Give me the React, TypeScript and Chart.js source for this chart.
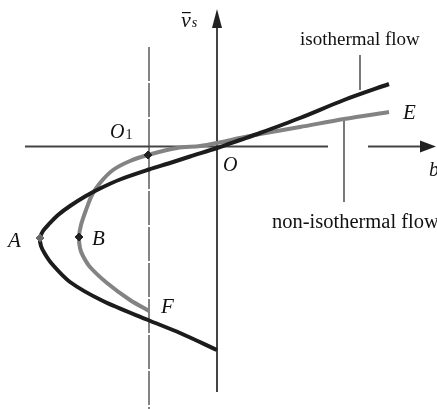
import React, { useEffect, useRef } from "react";
import { Chart, registerables } from "chart.js";

Chart.register(...registerables);

// Coordinates: b along the horizontal axis, v̄s along the vertical one, O at the origin.
const isothermalB = [17.2, 12.7, 8.3, 4.3, 2.3, 0, -2.7, -4.7, -6.8, -9.7, -11.7, -13.2, -14.7, -15.9, -16.8, -17.4, -17.7, -17.6, -17.2, -16.5, -14.7, -11.4, -6.9, -3.7, 0];
const isothermalV = [6.25, 4.65, 2.85, 1.35, 0.65, -0.15, -1.0, -1.65, -2.3, -3.3, -4.2, -5.0, -5.95, -6.85, -7.75, -8.45, -9.15, -9.95, -10.75, -11.75, -13.55, -15.45, -17.35, -18.65, -20.35];

const nonIsothermalB = [17.2, 12.7, 8.3, 4.3, 2.3, 0, -1.7, -4.0, -6.9, -8.7, -10.4, -11.7, -12.5, -13.1, -13.6, -13.8, -13.7, -13.4, -12.7, -11.0, -8.7, -6.8];
const nonIsothermalV = [3.45, 2.75, 1.95, 1.25, 0.85, 0.35, 0.05, -0.15, -0.85, -1.45, -2.35, -3.65, -4.85, -6.35, -7.85, -9.05, -10.15, -10.95, -12.05, -13.65, -15.35, -16.45];

// Marked points A (isothermal), B and O1 (non-isothermal)
const markerB = [-17.7, -13.8, -6.9];
const markerV = [-9.15, -9.05, -0.85];
const markerColors = ["#6a6a6a", "#222222", "#222222"];

// Axes and guide lines
const bAxisB = [-19.2, 11.1];
const bAxisTailB = [15.1, 20.4];
const vAxisV = [-24.55, 11.9];
const guideLineB = -6.8;
const guideLineV = [9.95, -26.3];
const isoLeaderB = 14.3;
const isoLeaderV = [9.15, 5.65];
const nonIsoLeaderB = 12.7;
const nonIsoLeaderV = [2.75, -5.55];

// Arrow heads
const bArrowTip = 21.9;
const bArrowBase = 20.3;
const vArrowTip = 13.75;
const vArrowBase = 11.85;

// Text labels: text, left b, baseline v, font
const labelTexts = ["isothermal flow", "non-isothermal flow", "E", "b", "O", "A", "B", "F"];
const labelB = [8.3, 5.5, 18.6, 21.2, 0.6, -20.9, -12.5, -5.6];
const labelV = [10.15, -8.15, 2.75, -2.95, -2.45, -10.05, -9.85, -16.65];
const labelFonts = [
  "19px 'Liberation Serif'",
  "20.5px 'Liberation Serif'",
  "italic 21px 'Liberation Serif'",
  "italic 20px 'Liberation Serif'",
  "italic 20px 'Liberation Serif'",
  "italic 21px 'Liberation Serif'",
  "italic 21px 'Liberation Serif'",
  "italic 21px 'Liberation Serif'",
];

const pts = (xs: number[], ys: number[]) => xs.map((x, i) => ({ x, y: ys[i] }));

const overlayPlugin = {
  id: "diagramOverlay",
  afterDatasetsDraw(chart: any) {
    const { ctx, scales } = chart;
    const px = (v: number) => scales.x.getPixelForValue(v);
    const py = (v: number) => scales.y.getPixelForValue(v);
    ctx.save();
    ctx.fillStyle = "#222";

    // b-axis arrow
    ctx.beginPath();
    ctx.moveTo(px(bArrowTip), py(0));
    ctx.lineTo(px(bArrowBase), py(0) - 6);
    ctx.lineTo(px(bArrowBase), py(0) + 6);
    ctx.closePath();
    ctx.fill();

    // v-axis arrow
    ctx.beginPath();
    ctx.moveTo(px(0), py(vArrowTip));
    ctx.lineTo(px(0) - 5, py(vArrowBase));
    ctx.lineTo(px(0) + 5, py(vArrowBase));
    ctx.closePath();
    ctx.fill();

    ctx.fillStyle = "#111";
    ctx.textBaseline = "alphabetic";
    ctx.textAlign = "left";
    labelTexts.forEach((t, i) => {
      ctx.font = labelFonts[i];
      ctx.fillText(t, px(labelB[i]), py(labelV[i]));
    });

    // O1
    const o1x = px(-10.7);
    const o1y = py(0.85);
    ctx.font = "italic 20px 'Liberation Serif'";
    ctx.fillText("O", o1x, o1y);
    const ow = ctx.measureText("O").width;
    ctx.font = "14px 'Liberation Serif'";
    ctx.fillText("1", o1x + ow + 1, o1y + 1);

    // v̄s
    const vx = px(-3.6);
    const vy = py(11.95);
    ctx.font = "italic 22px 'Liberation Serif'";
    ctx.fillText("v", vx, vy);
    const vw = ctx.measureText("v").width;
    ctx.fillRect(vx + 1, vy - 15, vw - 1, 1.2);
    ctx.font = "italic 14px 'Liberation Serif'";
    ctx.fillText("s", vx + vw + 1, vy);
    ctx.restore();
  },
};

export default function App() {
  const canvasRef = useRef<HTMLCanvasElement | null>(null);

  useEffect(() => {
    if (!canvasRef.current) return;
    const thin = { showLine: true, pointRadius: 0, borderColor: "#333", borderWidth: 1.3, tension: 0 };
    const chart = new Chart(canvasRef.current, {
      type: "scatter",
      data: {
        datasets: [
          {
            data: pts(markerB, markerV),
            showLine: false,
            pointStyle: "rectRot",
            pointRadius: 4,
            pointBackgroundColor: markerColors,
            pointBorderColor: markerColors,
            pointBorderWidth: 1,
          },
          {
            data: pts(isothermalB, isothermalV),
            showLine: true,
            borderColor: "#1c1c1c",
            borderWidth: 4,
            pointRadius: 0,
            tension: 0.3,
          },
          {
            data: pts(nonIsothermalB, nonIsothermalV),
            showLine: true,
            borderColor: "#838383",
            borderWidth: 4,
            pointRadius: 0,
            tension: 0.3,
          },
          { ...thin, data: pts(bAxisB, [0, 0]), borderWidth: 2, borderColor: "#444" },
          { ...thin, data: pts(bAxisTailB, [0, 0]), borderWidth: 2, borderColor: "#444" },
          { ...thin, data: pts([0, 0], vAxisV), borderWidth: 2, borderColor: "#444" },
          { ...thin, data: pts([guideLineB, guideLineB], guideLineV), borderWidth: 1.2, borderDash: [34, 2] },
          { ...thin, data: pts([isoLeaderB, isoLeaderB], isoLeaderV) },
          { ...thin, data: pts([nonIsoLeaderB, nonIsoLeaderB], nonIsoLeaderV) },
        ],
      },
      options: {
        animation: false,
        responsive: false,
        events: [],
        layout: { padding: 0, autoPadding: false },
        plugins: { legend: { display: false }, tooltip: { enabled: false } },
        scales: {
          x: { type: "linear", display: false, min: -21.7, max: 22.0 },
          y: { type: "linear", display: false, min: -26.25, max: 14.65 },
        },
      },
      plugins: [overlayPlugin],
    } as any);
    return () => chart.destroy();
  }, []);

  return (
    <div style={{ position: "fixed", left: 0, top: 0, width: 437, height: 409, background: "#fff" }}>
      <canvas ref={canvasRef} width={437} height={409} />
    </div>
  );
}
